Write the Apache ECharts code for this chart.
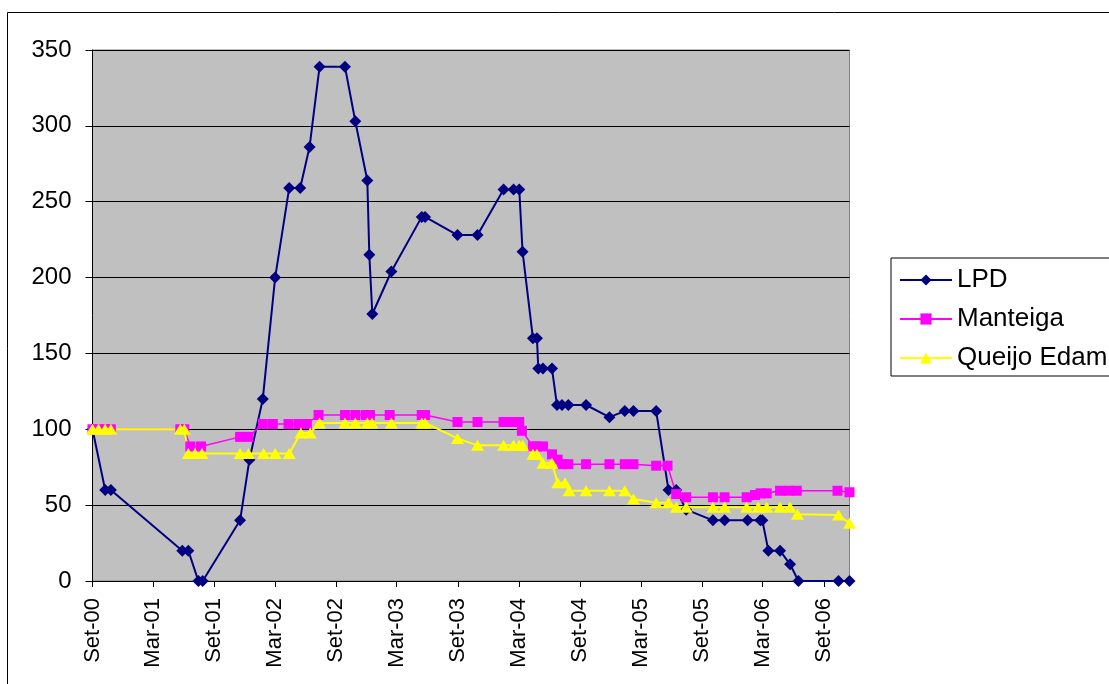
<!DOCTYPE html>
<html>
<head>
<meta charset="utf-8">
<script src="https://cdn.jsdelivr.net/npm/echarts@6/dist/echarts.min.js"></script>
<style>
  html, body { margin: 0; padding: 0; background: #fff; }
  #chart { width: 1109px; height: 684px; }
</style>
</head>
<body>
<div id="chart"></div>
<script>
// x axis labels (every 6 months)
const tickDates = ['2000-09-01', '2001-03-01', '2001-09-01', '2002-03-01', '2002-09-01', '2003-03-01', '2003-09-01',
    '2004-03-01', '2004-09-01', '2005-03-01', '2005-09-01', '2006-03-01', '2006-09-01'];
const tickLabels = ['Set-00', 'Mar-01', 'Set-01', 'Mar-02', 'Set-02', 'Mar-03', 'Set-03',
    'Mar-04', 'Set-04', 'Mar-05', 'Set-05', 'Mar-06', 'Set-06'];

const lpdDates = ['2000-09-01', '2000-10-09', '2000-10-26', '2001-05-28', '2001-06-15', '2001-07-15', '2001-07-28',
    '2001-11-17', '2001-12-15', '2002-01-24', '2002-03-02', '2002-04-13', '2002-05-16', '2002-06-13', '2002-07-13',
    '2002-09-27', '2002-10-28', '2002-12-03', '2002-12-09', '2002-12-18', '2003-02-13', '2003-05-15', '2003-05-25',
    '2003-08-30', '2003-10-29', '2004-01-15', '2004-02-14', '2004-03-02', '2004-03-12', '2004-04-12', '2004-04-24',
    '2004-04-28', '2004-05-12', '2004-06-08', '2004-06-23', '2004-07-08', '2004-07-27', '2004-09-18', '2004-11-27',
    '2005-01-12', '2005-02-07', '2005-04-16', '2005-05-23', '2005-06-15', '2005-07-15', '2005-10-03', '2005-11-07',
    '2006-01-15', '2006-02-22', '2006-02-28', '2006-03-18', '2006-04-22', '2006-05-22', '2006-06-16', '2006-10-14',
    '2006-11-16'];
const lpdValues = [100, 60, 60, 20, 20, 0, 0,
    40, 80, 120, 200, 259, 259, 286, 339,
    339, 303, 264, 215, 176, 204, 240, 240,
    228, 228, 258, 258, 258, 217, 160, 160,
    140, 140, 140, 116, 116, 116, 116, 108,
    112, 112, 112, 60, 60, 47, 40, 40,
    40, 40, 40, 20, 20, 11, 0, 0,
    0];

const manteigaDates = ['2000-09-01', '2000-09-19', '2000-10-09', '2000-10-26', '2001-05-22', '2001-06-03', '2001-06-21',
    '2001-07-23', '2001-11-17', '2001-12-12', '2002-01-24', '2002-02-23', '2002-04-11', '2002-05-11', '2002-06-05',
    '2002-07-10', '2002-09-27', '2002-10-28', '2002-11-29', '2002-12-11', '2003-02-08', '2003-05-15', '2003-05-25',
    '2003-08-30', '2003-10-29', '2004-01-15', '2004-02-04', '2004-02-21', '2004-03-02', '2004-03-10', '2004-04-12',
    '2004-04-24', '2004-05-12', '2004-06-08', '2004-06-25', '2004-07-08', '2004-07-27', '2004-09-18', '2004-11-27',
    '2005-01-12', '2005-02-07', '2005-04-16', '2005-05-20', '2005-06-15', '2005-07-15', '2005-10-03', '2005-11-07',
    '2006-01-12', '2006-02-06', '2006-02-23', '2006-03-13', '2006-04-22', '2006-05-17', '2006-06-11', '2006-10-11',
    '2006-11-16'];
const manteigaValues = [100, 100, 100, 100, 100, 100, 88.7,
    88.7, 95, 95, 103.5, 103.5, 103.5, 103.5, 103.5,
    109.4, 109.4, 109.4, 109.4, 109.4, 109.4, 109.4, 109.4,
    104.8, 104.8, 104.8, 104.8, 104.8, 104.8, 99, 88.7,
    88.7, 88.7, 83.5, 80, 77, 77, 77, 77,
    77, 77, 76, 76, 57.3, 55.2, 55.2, 55.2,
    55.2, 56.7, 57.8, 57.8, 59.5, 59.5, 59.5, 59.5,
    58.5];

const queijoDates = ['2000-09-01', '2000-09-19', '2000-10-09', '2000-10-26', '2001-05-22', '2001-06-03', '2001-06-15',
    '2001-07-05', '2001-07-26', '2001-11-17', '2001-12-12', '2002-01-26', '2002-03-02', '2002-04-13', '2002-05-18',
    '2002-06-15', '2002-07-13', '2002-09-27', '2002-10-28', '2002-12-03', '2002-12-17', '2003-02-13', '2003-05-15',
    '2003-05-25', '2003-08-30', '2003-10-29', '2004-01-15', '2004-02-14', '2004-03-02', '2004-03-12', '2004-04-12',
    '2004-04-24', '2004-05-12', '2004-06-08', '2004-06-25', '2004-07-17', '2004-07-29', '2004-09-18', '2004-11-27',
    '2005-01-12', '2005-02-07', '2005-04-16', '2005-05-23', '2005-06-16', '2005-07-15', '2005-10-03', '2005-11-07',
    '2006-01-12', '2006-02-16', '2006-03-13', '2006-04-22', '2006-05-22', '2006-06-13', '2006-10-14', '2006-11-16'];
const queijoValues = [100, 100, 100, 100, 100, 100, 84,
    84, 84, 84, 84, 84, 84, 84, 97.6,
    97.6, 104.2, 104.2, 104.2, 104.2, 104.2, 104.2, 104.2,
    104.2, 94, 89.4, 89.4, 89.4, 89.4, 89.4, 83.5,
    83.5, 77.6, 77.6, 64.7, 64.7, 59.5, 59.5, 59.5,
    59.5, 54, 51.6, 51.6, 48.6, 48.6, 48.6, 48.6,
    48.6, 48.6, 48.6, 48.6, 48.6, 44, 43.5, 38];

const font = '"Liberation Sans", Arial, sans-serif';

// dates -> timestamps on a plain value axis
function toTime(d) {
    const p = d.split('-');
    return Date.UTC(+p[0], +p[1] - 1, +p[2]);
}
function pairs(dates, values) {
    return dates.map((d, i) => [toTime(d), values[i]]);
}
const tickTimes = tickDates.map(toTime);

const chart = echarts.init(document.getElementById('chart'));
const option = {
    animation: false,
    backgroundColor: '#fff',
    graphic: [{
        type: 'rect',
        shape: { x: 7.5, y: 12.5, width: 1200, height: 800 },
        style: { fill: 'none', stroke: '#000', lineWidth: 1 },
        silent: true
    }],
    grid: {
        left: 92.5, right: 259.5, top: 50, bottom: 103,
        show: true, backgroundColor: '#C0C0C0', borderColor: '#808080', borderWidth: 1
    },
    legend: {
        orient: 'vertical', left: 891, top: 258,
        backgroundColor: '#fff', borderColor: '#000', borderWidth: 1,
        padding: [9, 80, 5, 8],
        itemWidth: 52, itemHeight: 14, itemGap: 13,
        textStyle: { fontSize: 26, fontFamily: font, color: '#000', lineHeight: 25 },
        data: ['LPD', 'Manteiga', 'Queijo Edam']
    },
    xAxis: {
        type: 'value',
        min: toTime('2000-09-01'),
        max: toTime('2006-11-16'),
        axisLine: { show: true, onZero: false, lineStyle: { color: '#000', width: 1 } },
        axisTick: { show: true, length: 6, lineStyle: { color: '#000' }, customValues: tickTimes },
        axisLabel: {
            customValues: tickTimes,
            rotate: 90, margin: 17,
            fontSize: 22, fontFamily: font, color: '#000',
            formatter: function (v) {
                let best = 0;
                tickTimes.forEach((t, i) => { if (Math.abs(t - v) < Math.abs(tickTimes[best] - v)) best = i; });
                return tickLabels[best];
            }
        },
        splitLine: { show: false }
    },
    yAxis: {
        type: 'value', min: 0, max: 350, interval: 50,
        axisLine: { show: true, lineStyle: { color: '#000', width: 1 } },
        axisTick: { show: true, length: 7, lineStyle: { color: '#000' } },
        axisLabel: { fontSize: 24, fontFamily: font, color: '#000', margin: 21 },
        splitLine: { show: true, lineStyle: { color: '#000', width: 1 } }
    },
    series: [
        {
            name: 'LPD', type: 'line',
            data: pairs(lpdDates, lpdValues),
            symbol: 'diamond', symbolSize: 12, showAllSymbol: true,
            itemStyle: { color: '#000080' },
            lineStyle: { color: '#000080', width: 2 }
        },
        {
            name: 'Manteiga', type: 'line',
            data: pairs(manteigaDates, manteigaValues),
            symbol: 'rect', symbolSize: 10, showAllSymbol: true,
            itemStyle: { color: '#FF00FF' },
            lineStyle: { color: '#FF00FF', width: 1.5 }
        },
        {
            name: 'Queijo Edam', type: 'line',
            data: pairs(queijoDates, queijoValues),
            symbol: 'triangle', symbolSize: [13, 11], showAllSymbol: true,
            itemStyle: { color: '#FFFF00' },
            lineStyle: { color: '#FFFF00', width: 2 }
        }
    ]
};
chart.setOption(option);
</script>
</body>
</html>
